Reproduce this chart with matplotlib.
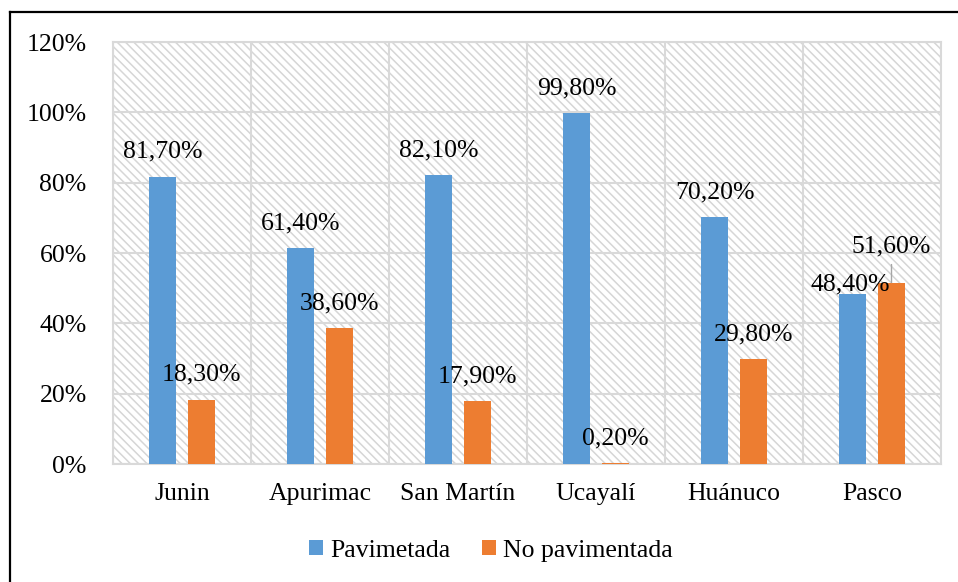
import matplotlib

matplotlib.use("Agg")

import matplotlib.pyplot as plt
from matplotlib.lines import Line2D
from matplotlib.ticker import FixedLocator


CATEGORIES = ["Junin", "Apurimac", "San Martín", "Ucayalí", "Huánuco", "Pasco"]
PAVIMENTADA = [0.817, 0.614, 0.821, 0.998, 0.702, 0.484]
NO_PAVIMENTADA = [0.183, 0.386, 0.179, 0.002, 0.298, 0.516]
SERIES_NAMES = ["Pavimetada", "No pavimentada"]
Y_TICKS = [0.0, 0.2, 0.4, 0.6, 0.8, 1.0, 1.2]

BLUE = "#5B9BD5"
ORANGE = "#ED7D31"
GRID = "#D9D9D9"
HATCH = "#D6D6D6"
FS = 18.5

plt.rcParams["font.family"] = "serif"
plt.rcParams["font.serif"] = ["Liberation Serif", "Times New Roman", "DejaVu Serif"]
plt.rcParams["hatch.color"] = HATCH
plt.rcParams["hatch.linewidth"] = 1.1


def pct(v):
    return f"{v * 100:.2f}%".replace(".", ",")


def main() -> None:
    fig = plt.figure(figsize=(9.58, 5.82), dpi=100)
    ax = fig.add_axes([0.118, 0.2027, 0.8643, 0.725])

    # hatched plot-area background
    ax.patch.set_facecolor("white")
    ax.patch.set_hatch("\\\\\\\\")
    ax.patch.set_edgecolor(HATCH)
    ax.patch.set_linewidth(0)

    x = list(range(len(CATEGORIES)))
    width = 0.192
    offset = 0.141
    xb = [i - offset for i in x]
    xo = [i + offset for i in x]
    ax.bar(xb, PAVIMENTADA, width, color=BLUE, label=SERIES_NAMES[0], zorder=3)
    ax.bar(xo, NO_PAVIMENTADA, width, color=ORANGE, label=SERIES_NAMES[1], zorder=3)

    ax.set_xlim(-0.5, len(CATEGORIES) - 0.5)
    ax.set_ylim(0, 1.2)
    ax.set_yticks(Y_TICKS)
    ax.set_yticklabels([f"{int(round(t * 100))}%" for t in Y_TICKS])
    ax.set_xticks(x)
    ax.set_xticklabels(CATEGORIES)
    ax.xaxis.set_minor_locator(FixedLocator([i - 0.5 for i in range(len(CATEGORIES) + 1)]))
    ax.tick_params(axis="both", which="both", length=0, labelsize=FS)
    ax.tick_params(axis="y", pad=19)
    ax.tick_params(axis="x", pad=14)
    ax.grid(axis="y", which="major", color=GRID, linewidth=1.5, zorder=1)
    ax.grid(axis="x", which="minor", color=GRID, linewidth=1.5, zorder=1)
    ax.set_axisbelow(True)
    for side in ax.spines.values():
        side.set_color(GRID)
        side.set_linewidth(1.5)

    # data labels (Excel labels; the Pasco pair was moved by hand)
    last = len(CATEGORIES) - 1
    for i in range(last):
        ax.annotate(pct(PAVIMENTADA[i]), (xb[i], PAVIMENTADA[i]), xytext=(0, 18),
                    textcoords="offset points", ha="center", va="center", fontsize=FS)
        ax.annotate(pct(NO_PAVIMENTADA[i]), (xo[i], NO_PAVIMENTADA[i]), xytext=(0, 18),
                    textcoords="offset points", ha="center", va="center", fontsize=FS)
    ax.annotate(pct(PAVIMENTADA[last]), (xb[last], PAVIMENTADA[last]), xytext=(-2, 6.5),
                textcoords="offset points", ha="center", va="center", fontsize=FS, zorder=4)
    ax.annotate(pct(NO_PAVIMENTADA[last]), (xo[last], NO_PAVIMENTADA[last]), xytext=(0, 26),
                textcoords="offset points", ha="center", va="center", fontsize=FS)
    ax.annotate("", (xo[last], NO_PAVIMENTADA[last]), xytext=(0, 13),
                textcoords="offset points",
                arrowprops=dict(arrowstyle="-", color="#A6A6A6", linewidth=1.0,
                                shrinkA=0, shrinkB=0))

    fig.legend(loc="center", bbox_to_anchor=(0.5125, 0.054), ncol=2, frameon=False,
               fontsize=FS, handlelength=0.55, handleheight=0.55, handletextpad=0.25,
               columnspacing=1.25)

    # outer chart border (only top and left visible in the crop)
    fig.add_artist(Line2D([0.0104, 0.0104], [0.0, 0.9794], color="black", linewidth=1.6,
                          transform=fig.transFigure))
    fig.add_artist(Line2D([0.0104, 1.0], [0.9794, 0.9794], color="black", linewidth=1.6,
                          transform=fig.transFigure))

    fig.savefig("out.png", dpi=100, facecolor="white")
    plt.close(fig)


if __name__ == "__main__":
    main()
